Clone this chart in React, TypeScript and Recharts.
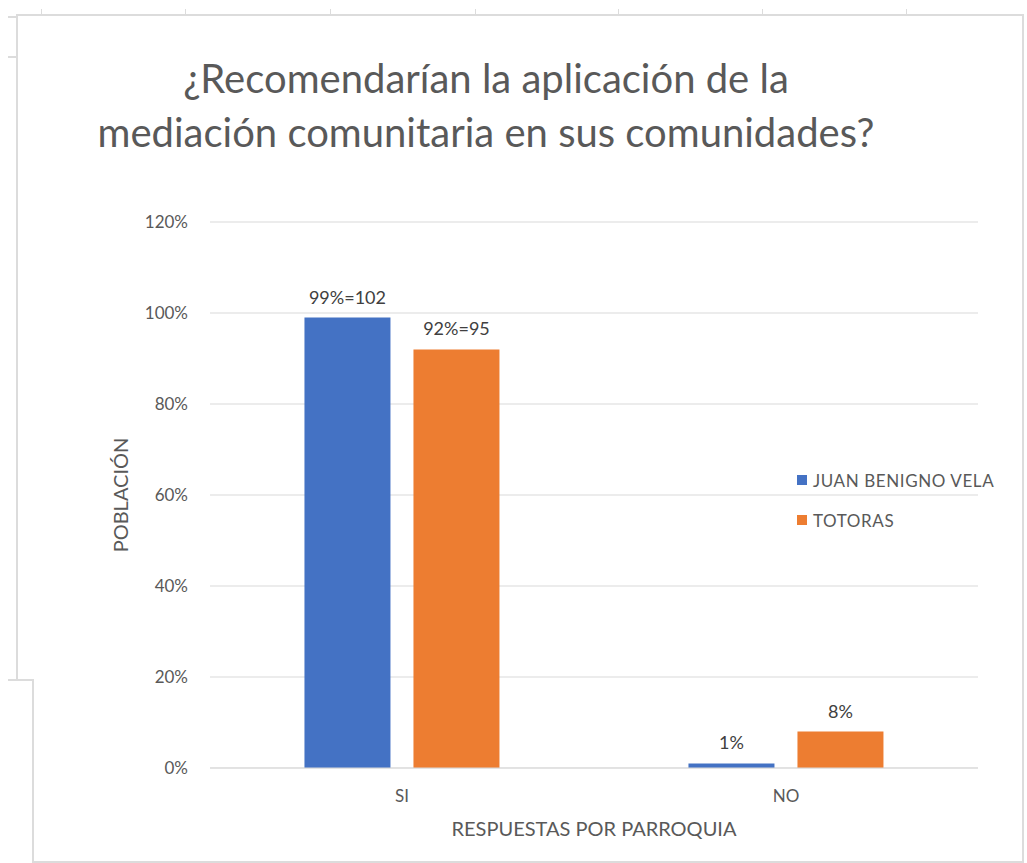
import React from "react";
import { BarChart, Bar, XAxis, YAxis, CartesianGrid, LabelList } from "recharts";

const categories = ["SI", "NO"];
const juanValues = [99, 1];
const totorasValues = [92, 8];
const juanLabels = ["99%=102", "1%"];
const totorasLabels = ["92%=95", "8%"];
const yTicks = [0, 20, 40, 60, 80, 100, 120];
const seriesNames = ["JUAN BENIGNO VELA", "TOTORAS"];
const titleLines = ["¿Recomendarían la aplicación de la", "mediación comunitaria en sus comunidades?"];

const data = categories.map((c, i) => ({
  cat: c,
  juan: juanValues[i],
  totoras: totorasValues[i],
  juanLabel: juanLabels[i],
  totorasLabel: totorasLabels[i],
}));

const FONT = "Lato, 'Open Sans', sans-serif";
const GRID = "#d9d9d9";
const TEXT = "#595959";
const BLUE = "#4472C4";
const ORANGE = "#ED7D31";
const seriesColors = [BLUE, ORANGE];

const line = (left: number, top: number, width: number, height: number) => (
  <div style={{ position: "absolute", left, top, width, height, background: "#dcdcdc" }} />
);

export default function App() {
  return (
    <div style={{ position: "absolute", left: 0, top: 0, width: 1027, height: 863, background: "#fff", overflow: "hidden" }}>
      {line(16, 14, 1008, 2)}
      {line(16, 14, 2, 667)}
      {line(8, 679, 26, 2)}
      {line(32, 679, 2, 184)}
      {line(1022, 14, 2, 849)}
      {line(32, 861, 992, 2)}
      {line(8, 16, 9, 2)}
      {line(8, 56, 9, 2)}
      {[41, 185, 330, 475, 618, 762, 906].map((x) => (
        <React.Fragment key={x}>{line(x, 9, 1, 5)}</React.Fragment>
      ))}
      <div
        style={{
          position: "absolute",
          left: 0,
          width: 972,
          top: 51,
          textAlign: "center",
          fontFamily: FONT,
          fontSize: 40,
          fontWeight: 400,
          color: TEXT,
          lineHeight: "54px",
        }}
      >
        {titleLines.map((t) => (
          <div key={t}>{t}</div>
        ))}
      </div>
      <div style={{ position: "absolute", left: 0, top: 0 }}>
        <BarChart
          width={1027}
          height={863}
          data={data}
          margin={{ top: 222, right: 49, left: 150, bottom: 65 }}
          barCategoryGap="24.6%"
          barGap={23}
        >
          <CartesianGrid vertical={false} stroke={GRID} strokeWidth={1} />
          <XAxis
            dataKey="cat"
            axisLine={{ stroke: GRID }}
            tickLine={false}
            height={30}
            tickMargin={16}
            tick={{ fill: TEXT, fontSize: 17, fontFamily: FONT }}
            label={{ value: "RESPUESTAS POR PARROQUIA", position: "insideBottom", offset: -38, fill: TEXT, fontSize: 20, fontFamily: FONT }}
          />
          <YAxis
            width={60}
            domain={[0, 120]}
            ticks={yTicks}
            tickFormatter={(v: number) => `${v}%`}
            axisLine={false}
            tickLine={false}
            tickMargin={16}
            tick={{ fill: TEXT, fontSize: 17, fontFamily: FONT }}
            label={{ value: "POBLACIÓN", angle: -90, position: "center", dx: -59, fill: TEXT, fontSize: 20, fontFamily: FONT }}
          />
          <Bar dataKey="juan" name={seriesNames[0]} fill={BLUE} isAnimationActive={false}>
            <LabelList dataKey="juanLabel" position="top" offset={14} fill="#404040" fontSize={18} fontFamily={FONT} />
          </Bar>
          <Bar dataKey="totoras" name={seriesNames[1]} fill={ORANGE} isAnimationActive={false}>
            <LabelList dataKey="totorasLabel" position="top" offset={14} fill="#404040" fontSize={18} fontFamily={FONT} />
          </Bar>
        </BarChart>
      </div>
      <div style={{ position: "absolute", left: 797, top: 469, fontFamily: FONT, fontSize: 17, color: TEXT, letterSpacing: 0.6 }}>
        {seriesNames.map((n, i) => (
          <div key={n} style={{ display: "flex", alignItems: "center", height: 22, marginBottom: i === 0 ? 18 : 0 }}>
            <span style={{ display: "inline-block", width: 10, height: 10, background: seriesColors[i], marginRight: 6 }} />
            <span>{n}</span>
          </div>
        ))}
      </div>
    </div>
  );
}
